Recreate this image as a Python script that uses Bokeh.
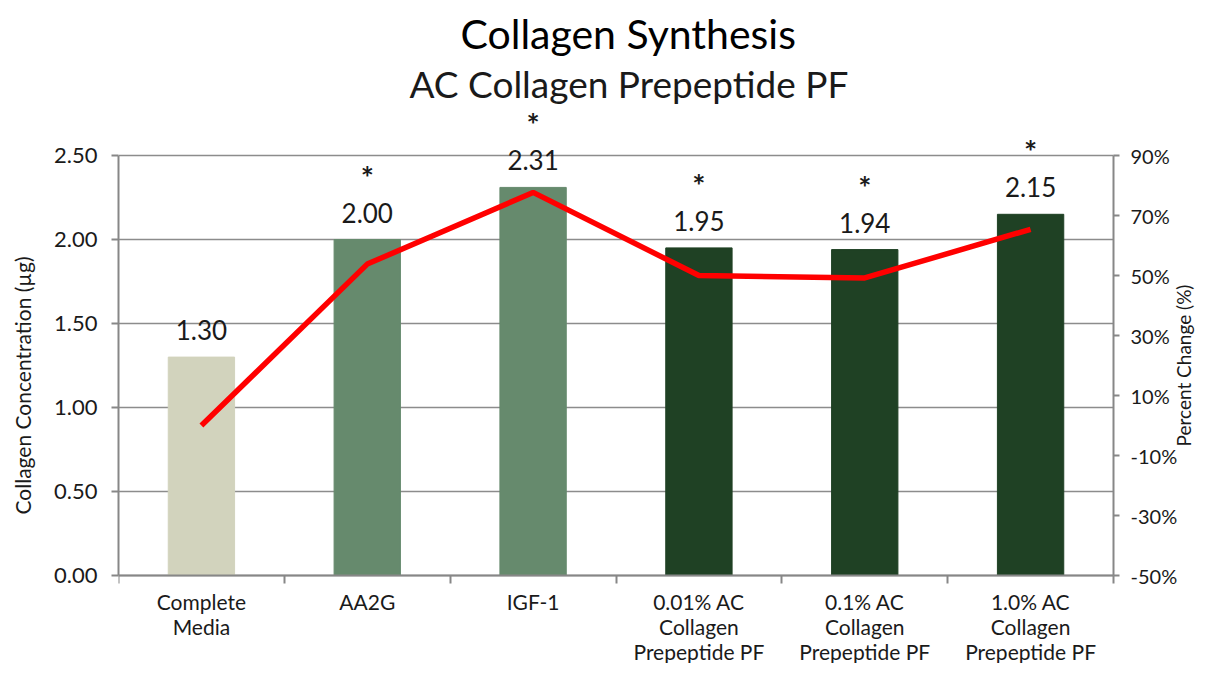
import math
from bokeh.plotting import figure
from bokeh.models import (Range1d, LinearAxis, FixedTicker, PrintfTickFormatter,
                          NumeralTickFormatter, Title, ColumnDataSource)
from bokeh.embed import file_html
from bokeh.resources import INLINE
from bokeh.core.properties import value

categories = ["Complete\nMedia", "AA2G", "IGF-1", "0.01% AC\nCollagen\nPrepeptide PF",
              "0.1% AC\nCollagen\nPrepeptide PF", "1.0% AC\nCollagen\nPrepeptide PF"]
concentration = [1.30, 2.00, 2.31, 1.95, 1.94, 2.15]
percent_change = [0.0, 53.8, 77.7, 50.0, 49.2, 65.4]
significance = ["", "*", "*", "*", "*", "*"]
bar_colors = ["#d2d3bd", "#668a6d", "#668a6d", "#1f4124", "#1f4124", "#1f4124"]
left_ticks = [0.0, 0.5, 1.0, 1.5, 2.0, 2.5]
right_ticks = [-50, -30, -10, 10, 30, 50, 70, 90]

FONT = "Lato"
TXT = "#1a1a1a"
AX = "#878787"

# layout (canvas pixels)
W, H = 1197, 663
FRAME_TOP = 107                     # frame extends above the 2.50 line to hold the labels
AXIS_TOP, AXIS_BOTTOM = 155, 575    # pixel rows of 2.50 and 0.00
LEFT_AXIS, RIGHT_AXIS = 118, 1113   # pixel columns of the two value axes
px_per_unit = (AXIS_BOTTOM - AXIS_TOP) / (left_ticks[-1] - left_ticks[0])
y_end = left_ticks[-1] + (AXIS_TOP - FRAME_TOP) / px_per_unit
y_start = left_ticks[0] - (H - AXIS_BOTTOM) / px_per_unit
px_per_pct = (AXIS_BOTTOM - AXIS_TOP) / (right_ticks[-1] - right_ticks[0])
r_end = right_ticks[-1] + (AXIS_TOP - FRAME_TOP) / px_per_pct
r_start = right_ticks[0] - (H - AXIS_BOTTOM) / px_per_pct
n = len(categories)
x_lo, x_hi = -0.5, n - 0.5
px_per_cat = (RIGHT_AXIS - LEFT_AXIS) / n
x_end = x_hi + (W - RIGHT_AXIS) / px_per_cat

xs = list(range(n))
src = ColumnDataSource(dict(
    x=xs, conc=concentration, pct=percent_change, star=significance, color=bar_colors,
    label=["%.2f" % v for v in concentration]))

p = figure(width=W, height=H, output_backend="svg", toolbar_location=None,
           x_range=Range1d(x_lo, x_end), y_range=Range1d(y_start, y_end),
           min_border_left=LEFT_AXIS, min_border_right=0, min_border_top=FRAME_TOP,
           min_border_bottom=0)
p.outline_line_color = None
p.background_fill_color = "white"

# outer title
p.title.text = "Collagen Synthesis"
p.title.align = "left"
p.title.offset = 342
p.title.text_font = FONT
p.title.text_font_size = "41px"
p.title.text_font_style = "normal"
p.title.text_color = "#000000"
p.title.standoff = 0
# inner subtitle
sub = Title(text="AC Collagen Prepeptide PF", align="left", offset=291, text_font=FONT,
            text_font_size="37px", text_font_style="normal", text_color=TXT, standoff=3)
p.add_layout(sub, "above")

p.extra_y_ranges = {"pct": Range1d(r_start, r_end)}

# horizontal grid lines only between the two value axes
gx0 = [x_lo] * len(left_ticks)
gx1 = [x_hi] * len(left_ticks)
p.segment(x0=gx0, y0=left_ticks, x1=gx1, y1=left_ticks, line_color="#8c8c8c",
          line_width=1.5)

p.vbar(x="x", top="conc", width=0.4, color="color", source=src)
p.line(x="x", y="pct", y_range_name="pct", color="#ff0000", line_width=5.5, source=src)

p.text(x="x", y="conc", text="label", source=src, text_align="center",
       text_baseline="alphabetic", y_offset=-27, text_font=value(FONT),
       text_font_size="26px", text_color=TXT)
p.text(x="x", y="conc", text="star", source=src, text_align="center",
       text_baseline="alphabetic", y_offset=-63, text_font=value(FONT),
       text_font_size="31px", text_font_style="bold", text_color=TXT)

# x axis drawn at 0.00, with ticks between categories
xa = p.xaxis[0]
xa.fixed_location = 0
xa.bounds = (x_lo, x_hi)
xa.ticker = FixedTicker(ticks=xs, minor_ticks=[i - 0.5 for i in range(n + 1)])
xa.major_label_overrides = {i: c for i, c in enumerate(categories)}
xa.major_label_text_font = FONT
xa.major_label_text_font_size = "21px"
xa.major_label_text_color = TXT
xa.major_label_text_line_height = 1.0
xa.major_label_standoff = 5
xa.major_tick_out = 0
xa.major_tick_in = 0
xa.minor_tick_out = 8
xa.minor_tick_in = 0
xa.minor_tick_line_color = AX
xa.minor_tick_line_width = 2
xa.axis_line_color = AX
xa.axis_line_width = 2

# left axis
ya = p.yaxis[0]
ya.bounds = (left_ticks[0], left_ticks[-1])
ya.ticker = FixedTicker(ticks=left_ticks)
ya.formatter = NumeralTickFormatter(format="0.00")
ya.axis_label = "Collagen Concentration (µg)"
ya.axis_label_text_font = FONT
ya.axis_label_text_font_size = "21px"
ya.axis_label_text_font_style = "normal"
ya.axis_label_text_color = TXT
ya.axis_label_standoff = 16
ya.major_label_text_font = FONT
ya.major_label_text_font_size = "22px"
ya.major_label_text_color = TXT
ya.major_tick_out = 7
ya.major_tick_in = 0
ya.minor_tick_out = 0
ya.minor_tick_in = 0
ya.major_tick_line_color = AX
ya.major_tick_line_width = 2
ya.axis_line_color = AX
ya.axis_line_width = 2
ya.major_label_standoff = 14

# right axis, placed at the right edge of the category area
ra = LinearAxis(y_range_name="pct", ticker=FixedTicker(ticks=right_ticks),
                formatter=PrintfTickFormatter(format="%d%%"),
                bounds=(right_ticks[0], right_ticks[-1]))
ra.fixed_location = x_hi
ra.major_label_text_font = FONT
ra.major_label_text_font_size = "20px"
ra.major_label_text_color = TXT
ra.major_tick_out = 6
ra.major_tick_in = 0
ra.minor_tick_out = 0
ra.minor_tick_in = 0
ra.major_tick_line_color = AX
ra.major_tick_line_width = 2
ra.axis_line_color = AX
ra.axis_line_width = 2
ra.major_label_standoff = 11
p.add_layout(ra, "right")

# right axis title, reading bottom to top
p.text(x=[x_hi], y=[(right_ticks[0] + right_ticks[-1]) / 2], text=["Percent Change (%)"],
       y_range_name="pct", angle=math.pi / 2, x_offset=70, text_align="center",
       text_baseline="middle", text_font=value(FONT), text_font_size="19px",
       text_color=TXT)

p.xgrid.grid_line_color = None
p.ygrid.grid_line_color = None

open("out.html", "w").write(file_html(p, INLINE))
